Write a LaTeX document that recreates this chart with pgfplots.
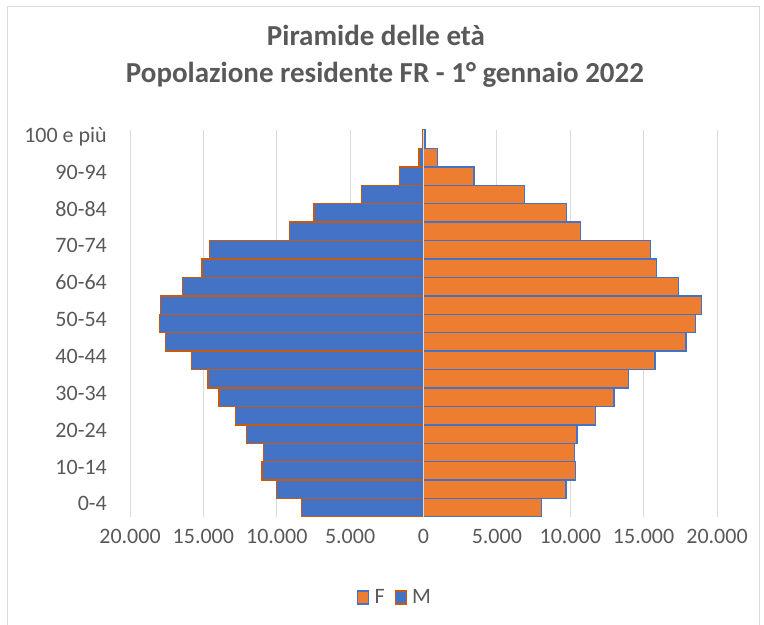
\documentclass[border=0pt]{standalone}
\usepackage{pgfplots}
\pgfplotsset{compat=1.18}
\usepackage{fontspec}
\setmainfont{Carlito}
\definecolor{txt}{HTML}{595959}
\definecolor{grd}{HTML}{D9D9D9}
\definecolor{cblue}{HTML}{4472C4}
\definecolor{corange}{HTML}{ED7D31}
\definecolor{cdorange}{HTML}{C55A11}
\begin{document}
\begin{tikzpicture}
\path[use as bounding box] (0,0) rectangle (764bp,625bp);
\draw[grd, line width=1bp] (7bp,-5bp) -- (7bp,618bp) -- (759bp,618bp) -- (759bp,-5bp);
\node[anchor=base, font=\fontsize{29bp}{34bp}\selectfont\bfseries, text=txt] at (376bp,579bp) {Piramide delle età};
\node[anchor=base, font=\fontsize{29bp}{34bp}\selectfont\bfseries, text=txt] at (385bp,542bp) {Popolazione residente FR - 1° gennaio 2022};
\begin{axis}[
  at={(130bp,108bp)}, anchor=south west,
  scale only axis, width=587bp, height=387bp,
  xmin=-20000, xmax=20000, ymin=-0.5, ymax=20.5,
  xbar, bar shift=0pt, bar width=18.43bp,
  axis line style={draw=none},
  major tick length=0pt,
  scaled x ticks=false,
  xmajorgrids, grid style={grd, line width=1bp},
  xtick={-20000,-15000,-10000,-5000,0,5000,10000,15000,20000},
  xticklabels={20.000,15.000,10.000,5.000,0,5.000,10.000,15.000,20.000},
  ytick={0,2,4,6,8,10,12,14,16,18,20},
  yticklabels={0-4,10-14,20-24,30-34,40-44,50-54,60-64,70-74,80-84,90-94,100 e più},
  tick label style={font=\fontsize{22bp}{26bp}\selectfont, text=txt, inner sep=0pt},
  xticklabel style={anchor=north, yshift=-20bp, text height=0.63em, text depth=0pt},
  yticklabel style={anchor=east, xshift=-23bp, text height=0.63em, text depth=0pt},
  legend columns=2,
  legend style={draw=none, fill=none, at={(0.4514,-0.2067)}, anchor=center,
    font=\fontsize{22bp}{26bp}\selectfont, text=txt,
    /tikz/every even column/.append style={column sep=8bp}},
  legend cell align=left,
]
\addplot[fill=corange, draw=cblue, line width=1.3bp,
  legend image code/.code={\draw[fill=corange, draw=cblue, line width=1.2bp] (0bp,-7bp) rectangle (11bp,6bp);\path[draw=none,fill=none] (0bp,0bp) -- (15bp,0bp);}] coordinates {
(8030,0) (9710,1) (10340,2) (10300,3) (10460,4) (11730,5) (12980,6) (13980,7)
(15770,8) (17880,9) (18540,10) (18920,11) (17360,12) (15860,13) (15450,14)
(10680,15) (9730,16) (6890,17) (3440,18) (970,19) (100,20)};
\addlegendentry{F}
\addplot[fill=cblue, draw=cdorange, line width=1.3bp,
  legend image code/.code={\draw[fill=cblue, draw=cdorange, line width=1.2bp] (0bp,-7bp) rectangle (11bp,6bp);\path[draw=none,fill=none] (0bp,0bp) -- (15bp,0bp);}] coordinates {
(-8300,0) (-10000,1) (-11000,2) (-10910,3) (-12040,4) (-12790,5) (-13930,6) (-14680,7)
(-15790,8) (-17560,9) (-18000,10) (-17900,11) (-16400,12) (-15090,13) (-14560,14)
(-9140,15) (-7460,16) (-4210,17) (-1620,18) (-300,19) (-50,20)};
\addlegendentry{M}
\draw[grd, line width=1.2bp] (axis cs:0,-0.5) -- (axis cs:0,20.5);
\end{axis}
\end{tikzpicture}
\end{document}
